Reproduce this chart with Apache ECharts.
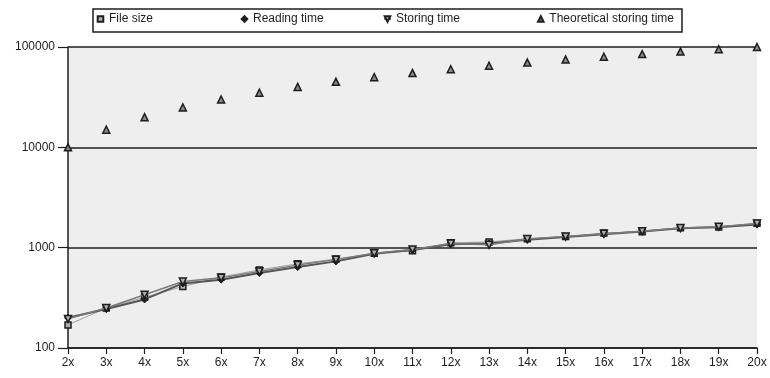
<!DOCTYPE html>
<html>
<head>
<meta charset="utf-8">
<script src="https://cdn.jsdelivr.net/npm/echarts@6/dist/echarts.min.js"></script>
<style>
  html, body { margin: 0; padding: 0; background: #fff; }
  #chart { width: 770px; height: 378px; }
</style>
</head>
<body>
<div id="chart"></div>
<script>
// categories (scale factor)
const scales = ['2x', '3x', '4x', '5x', '6x', '7x', '8x', '9x', '10x', '11x',
  '12x', '13x', '14x', '15x', '16x', '17x', '18x', '19x', '20x'];

// series values
const fileSize = [170, 250, 320, 410, 510, 600, 690, 770, 880, 930,
  1120, 1140, 1230, 1290, 1400, 1440, 1580, 1610, 1750];
const readingTime = [200, 245, 305, 440, 480, 560, 640, 730, 870, 950,
  1080, 1100, 1200, 1280, 1360, 1450, 1560, 1600, 1700];
const storingTime = [195, 250, 340, 460, 500, 580, 670, 760, 880, 960,
  1100, 1070, 1220, 1290, 1380, 1460, 1570, 1620, 1740];
const theoreticalTime = [10000, 15000, 20000, 25000, 30000, 35000, 40000, 45000, 50000, 55000,
  60000, 65000, 70000, 75000, 80000, 85000, 90000, 95000, 100000];

const seriesNames = ['File size', 'Reading time', 'Storing time', 'Theoretical storing time'];

const FONT = 'Liberation Sans';
const INK = '#1e1e1e';

let chart = echarts.init(document.getElementById('chart'), null, { renderer: 'canvas' });

// one legend per item so each one sits where it does in the picture
const legendLeft = [96, 240, 383, 537];
const legends = seriesNames.map((name, i) => ({
  data: [name],
  left: legendLeft[i],
  top: 13,
  padding: 0,
  itemWidth: 7,
  itemHeight: 7,
  itemGap: 5,
  selectedMode: false,
  textStyle: { fontFamily: FONT, fontSize: 12, color: INK }
}));

const markerStyle = { color: '#b0b0b0', borderColor: INK, borderWidth: 1.5 };

let option = {
  animation: false,
  backgroundColor: '#fff',
  legend: legends,
  graphic: [{
    type: 'rect',
    shape: { x: 93, y: 9, width: 589, height: 23 },
    style: { fill: 'none', stroke: INK, lineWidth: 1.5 },
    z: 100
  }],
  grid: {
    left: 68, right: 13, top: 47, bottom: 30,
    show: true, backgroundColor: '#eeeeee', borderWidth: 0
  },
  xAxis: {
    type: 'category',
    data: scales,
    boundaryGap: false,
    axisLine: { lineStyle: { color: INK, width: 1.5 } },
    axisTick: { alignWithLabel: true, length: 6, lineStyle: { color: INK, width: 1.2 } },
    axisLabel: { margin: 9, fontFamily: FONT, fontSize: 12, color: INK, interval: 0 },
    splitLine: { show: false }
  },
  yAxis: {
    type: 'log',
    logBase: 10,
    min: 100,
    max: 100000,
    axisLine: { show: true, lineStyle: { color: INK, width: 1.5 } },
    axisTick: { show: true, length: 10, lineStyle: { color: INK, width: 1.2 } },
    axisLabel: {
      margin: 13, fontFamily: FONT, fontSize: 12, color: INK,
      formatter: v => String(Math.round(v))
    },
    splitLine: { show: true, lineStyle: { color: INK, width: 1.5 } }
  },
  series: [
    {
      name: seriesNames[0],
      type: 'line',
      data: fileSize,
      symbol: 'rect',
      symbolSize: 6,
      itemStyle: markerStyle,
      lineStyle: { color: '#a0a0a0', width: 1 },
      z: 3
    },
    {
      name: seriesNames[1],
      type: 'line',
      data: readingTime,
      symbol: 'diamond',
      symbolSize: 7,
      itemStyle: { color: INK, borderColor: INK, borderWidth: 1 },
      lineStyle: { color: '#555', width: 2 },
      z: 4
    },
    {
      name: seriesNames[2],
      type: 'line',
      data: storingTime,
      symbol: 'triangle',
      symbolRotate: 180,
      symbolSize: 7,
      itemStyle: markerStyle,
      lineStyle: { color: '#7a7a7a', width: 1.5 },
      z: 5
    },
    {
      name: seriesNames[3],
      type: 'line',
      data: theoreticalTime,
      symbol: 'triangle',
      symbolSize: 7,
      itemStyle: { color: '#8a8a8a', borderColor: INK, borderWidth: 1.5 },
      lineStyle: { width: 0, opacity: 0 },
      z: 6
    }
  ]
};

chart.setOption(option);
</script>
</body>
</html>
